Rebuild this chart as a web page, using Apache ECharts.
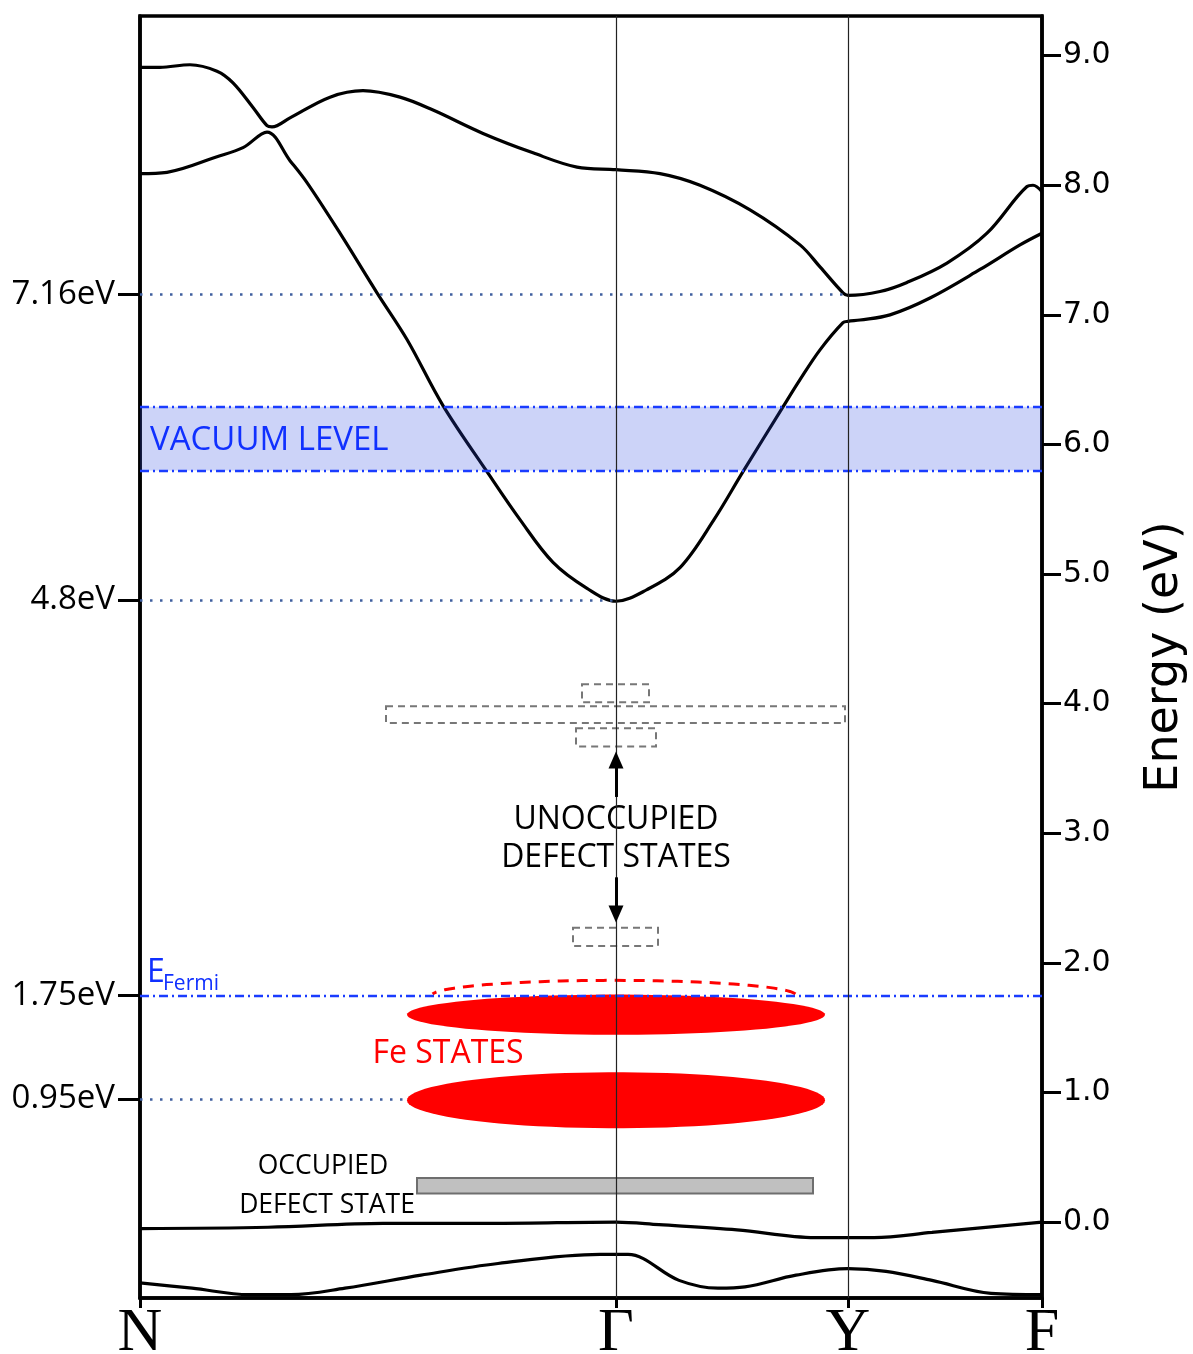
<!DOCTYPE html>
<html>
<head>
<meta charset="utf-8">
<script src="https://cdn.jsdelivr.net/npm/echarts@6/dist/echarts.min.js"></script>
<style>
    html, body {margin: 0; padding: 0; background: #fff;}
    #chart {width: 1193px; height: 1354px;}
</style>
</head>
<body>
<div id="chart"></div>
<script>
// k-path positions of the high symmetry points
var k_ticks = [0, 4.76, 7.08, 9.02];
var k_names = ['N', 'Γ', 'Y', 'F'];

// energy ticks (eV)
var right_ticks = [0, 1, 2, 3, 4, 5, 6, 7, 8, 9];
var left_ticks = [0.95, 1.75, 4.8, 7.16];
var e_min = -0.586;
var e_max = 9.306;

// bands
var k_b1 = [0, 0.20, 0.50, 0.77, 0.93, 1.13, 1.27, 1.32, 1.50, 1.90, 2.23, 2.60, 2.93, 3.43, 3.93, 4.37, 4.76, 5.20, 5.60, 6.10, 6.60, 6.80, 7.03, 7.08, 7.40, 7.67, 8.07, 8.47, 8.87, 8.93, 9.02];
var e_b1 = [8.91, 8.91, 8.93, 8.88, 8.79, 8.60, 8.46, 8.45, 8.52, 8.68, 8.73, 8.68, 8.58, 8.40, 8.25, 8.14, 8.12, 8.09, 8.00, 7.81, 7.54, 7.37, 7.17, 7.15, 7.18, 7.25, 7.40, 7.63, 7.99, 8.00, 7.95];

var k_b2 = [0, 0.27, 0.77, 1.03, 1.27, 1.50, 1.67, 2.00, 2.37, 2.67, 3.03, 3.47, 3.80, 4.13, 4.47, 4.76, 5.07, 5.40, 5.74, 6.03, 6.43, 6.60, 6.80, 7.03, 7.08, 7.20, 7.50, 7.90, 8.40, 8.80, 9.02];
var e_b2 = [8.09, 8.10, 8.22, 8.29, 8.41, 8.19, 8.02, 7.63, 7.17, 6.81, 6.30, 5.79, 5.42, 5.09, 4.89, 4.79, 4.88, 5.05, 5.42, 5.79, 6.29, 6.50, 6.73, 6.94, 6.95, 6.96, 7.00, 7.13, 7.35, 7.54, 7.63];

var k_b3 = [0, 1.28, 2.43, 3.58, 4.76, 5.19, 5.97, 6.75, 7.08, 7.34, 7.92, 9.02];
var e_b3 = [-0.05, -0.04, -0.01, -0.01, 0.00, -0.02, -0.06, -0.12, -0.12, -0.12, -0.08, 0.00];

var k_b4 = [0, 0.52, 1.09, 1.51, 2.05, 2.81, 3.58, 4.60, 4.76, 4.88, 5.39, 5.78, 6.05, 6.56, 7.08, 7.46, 7.92, 8.51, 9.02];
var e_b4 = [-0.47, -0.51, -0.56, -0.56, -0.51, -0.41, -0.32, -0.25, -0.25, -0.25, -0.45, -0.51, -0.50, -0.41, -0.36, -0.38, -0.45, -0.55, -0.56];

// levels
var vacuum_low = 5.80;
var vacuum_high = 6.29;
var e_fermi = 1.75;

// dashed boxes of the unoccupied defect states: [k0, k1, e0, e1]
var unocc_boxes = [
    [4.42, 5.09, 4.01, 4.15],
    [2.46, 7.05, 3.85, 3.98],
    [4.36, 5.16, 3.67, 3.81],
    [4.33, 5.18, 2.13, 2.27]
];
// occupied defect state bar
var occ_box = [2.77, 6.73, 0.22, 0.34];

// Fe states: [k centre, e centre, k half width, e half height]
var fe_states = [
    [4.76, 1.60, 2.09, 0.155],
    [4.76, 0.94, 2.09, 0.216]
];
var fe_arc = [4.74, 1.75, 1.82, 0.115];

// arrows [k, e_from, e_to]
var arrows = [
    [4.76, 3.28, 3.565],
    [4.76, 2.66, 2.377]
];

function zip(ks, es) {
    var out = [];
    for (var i = 0; i < ks.length; i++) {
        out.push([ks[i], es[i]]);
    }
    return out
}

function band_series(ks, es) {
    return {
        type: 'line',
        data: zip(ks, es),
        smooth: 0.35,
        symbol: 'none',
        z: 3,
        lineStyle: {color: '#000', width: 3.2},
        silent: true
    }
}

function ellipse_points(cx, cy, rx, ry, from, to, n) {
    var pts = [];
    for (var i = 0; i <= n; i++) {
        var t = from + (to - from) * i / n;
        pts.push([cx + rx * Math.cos(t), cy - ry * Math.sin(t)]);
    }
    return pts
}

function label_point(k, e, text, style) {
    return {
        type: 'scatter',
        data: [[k, e]],
        symbolSize: 0,
        silent: true,
        z: 8,
        itemStyle: {opacity: 1},
        label: Object.assign({
            show: true,
            position: 'inside',
            formatter: text,
            fontFamily: 'Open Sans',
            color: '#000'
        }, style)
    }
}

var dash_dot = [9, 4, 2, 4];
var dot_line = {color: '#3f5f9f', width: 2.5, type: [2.5, 7.5]};

var mychart = echarts.init(document.getElementById('chart'));

var option = {
    backgroundColor: '#fff',
    animation: false,
    grid: {
        left: 140, right: 151, top: 16, bottom: 56,
        outerBoundsMode: 'none',
        containLabel: false,
        show: true, borderColor: '#000', borderWidth: 3.5
    },
    xAxis: {
        type: 'value',
        min: 0,
        max: 9.02,
        splitLine: {show: false},
        axisLine: {onZero: false, lineStyle: {color: '#000', width: 3.5}},
        axisTick: {
            show: true, inside: false, length: 10, customValues: k_ticks,
            lineStyle: {color: '#000', width: 3}
        },
        axisLabel: {
            customValues: k_ticks,
            margin: 5,
            fontFamily: 'Liberation Serif',
            fontSize: 62,
            color: '#000',
            formatter: function (v) {
                for (var i = 0; i < k_ticks.length; i++) {
                    if (Math.abs(k_ticks[i] - v) < 1e-6) return k_names[i];
                }
                return '';
            }
        }
    },
    yAxis: [{
        type: 'value',
        position: 'left',
        min: e_min,
        max: e_max,
        splitLine: {show: false},
        axisLine: {show: true, onZero: false, lineStyle: {color: '#000', width: 3.5}},
        axisTick: {
            show: true, inside: false, length: 22, customValues: left_ticks,
            lineStyle: {color: '#000', width: 3}
        },
        axisLabel: {
            customValues: left_ticks,
            margin: 25,
            fontFamily: 'Open Sans',
            fontSize: 33,
            color: '#000',
            formatter: function (v) { return v + 'eV'; }
        }
    }, {
        type: 'value',
        position: 'right',
        min: e_min,
        max: e_max,
        splitLine: {show: false},
        name: 'Energy (eV)',
        nameLocation: 'middle',
        nameRotate: 90,
        nameGap: 100,
        nameTextStyle: {fontFamily: 'DejaVu Sans', fontSize: 46, color: '#000'},
        axisLine: {show: true, onZero: false, lineStyle: {color: '#000', width: 3.5}},
        axisTick: {
            show: true, inside: false, length: 19, customValues: right_ticks,
            lineStyle: {color: '#000', width: 3}
        },
        axisLabel: {
            customValues: right_ticks,
            margin: 21,
            fontFamily: 'DejaVu Sans',
            fontSize: 30,
            color: '#000',
            formatter: function (v) { return v.toFixed(1); }
        }
    }],
    series: [
        band_series(k_b1, e_b1),
        band_series(k_b2, e_b2),
        band_series(k_b3, e_b3),
        band_series(k_b4, e_b4),
        {
            // vacuum level band, Fermi level, guide lines
            type: 'line',
            data: [],
            silent: true,
            markArea: {
                silent: true,
                z: 6,
                itemStyle: {color: 'rgba(40, 70, 225, 0.24)'},
                data: [[{yAxis: vacuum_low}, {yAxis: vacuum_high}]]
            },
            markLine: {
                silent: true,
                symbol: 'none',
                z: 7,
                label: {show: false},
                data: [
                    {yAxis: vacuum_low, lineStyle: {color: '#1a3cff', width: 2.4, type: dash_dot}},
                    {yAxis: vacuum_high, lineStyle: {color: '#1a3cff', width: 2.4, type: dash_dot}},
                    {yAxis: e_fermi, lineStyle: {color: '#1a3cff', width: 2.4, type: dash_dot}},
                    [{coord: [0, left_ticks[3]], lineStyle: dot_line}, {coord: [k_ticks[2], left_ticks[3]]}],
                    [{coord: [0, left_ticks[2]], lineStyle: dot_line}, {coord: [k_ticks[1], left_ticks[2]]}],
                    [{coord: [0, left_ticks[0]], lineStyle: dot_line}, {coord: [2.67, left_ticks[0]]}]
                ]
            }
        },
        {
            // Fe states, defect boxes
            type: 'custom',
            z: 4,
            silent: true,
            data: fe_states.map(function (d) { return d.concat([0]); })
                .concat([fe_arc.concat([1])])
                .concat(unocc_boxes.map(function (d) { return d.concat([2]); }))
                .concat([occ_box.concat([3])]),
            encode: {x: 0, y: 1},
            renderItem: function (params, api) {
                var kind = api.value(4);
                if (kind === 0 || kind === 1) {
                    var c = api.coord([api.value(0), api.value(1)]);
                    var s = api.size([api.value(2), api.value(3)]);
                    if (kind === 0) {
                        return {
                            type: 'polygon',
                            shape: {points: ellipse_points(c[0], c[1], s[0], s[1], 0, Math.PI * 2, 90)},
                            style: {fill: '#ff0000', stroke: null}
                        };
                    }
                    return {
                        type: 'polyline',
                        shape: {points: ellipse_points(c[0], c[1], s[0], s[1], 0.08, Math.PI - 0.08, 50)},
                        style: {fill: null, stroke: '#ff0000', lineWidth: 3, lineDash: [11, 8]}
                    };
                }
                var p0 = api.coord([api.value(0), api.value(3)]);
                var p1 = api.coord([api.value(1), api.value(2)]);
                var rect = {x: p0[0], y: p0[1], width: p1[0] - p0[0], height: p1[1] - p0[1]};
                if (kind === 2) {
                    return {
                        type: 'rect', shape: rect,
                        style: {fill: null, stroke: '#777', lineWidth: 2, lineDash: [7, 5]}
                    };
                }
                return {
                    type: 'rect', shape: rect,
                    style: {fill: '#c0c0c0', stroke: '#6e6e6e', lineWidth: 2}
                };
            }
        },
        {
            // symmetry lines and arrows on top
            type: 'line',
            data: [],
            silent: true,
            markLine: {
                silent: true,
                symbol: 'none',
                z: 9,
                label: {show: false},
                data: [
                    {xAxis: k_ticks[1], lineStyle: {color: '#222', width: 1.2, type: 'solid'}},
                    {xAxis: k_ticks[2], lineStyle: {color: '#222', width: 1.2, type: 'solid'}},
                    [{coord: [arrows[0][0], arrows[0][1]], symbol: 'none', lineStyle: {color: '#000', width: 3, type: 'solid'}},
                     {coord: [arrows[0][0], arrows[0][2]], symbol: 'triangle', symbolSize: [15, 17]}],
                    [{coord: [arrows[1][0], arrows[1][1]], symbol: 'none', lineStyle: {color: '#000', width: 3, type: 'solid'}},
                     {coord: [arrows[1][0], arrows[1][2]], symbol: 'triangle', symbolSize: [15, 17]}]
                ]
            }
        },
        label_point(0.10, 6.03, 'VACUUM LEVEL', {position: 'right', distance: 0, fontSize: 33, color: '#1030ff'}),
        label_point(4.76, 2.955, 'UNOCCUPIED\nDEFECT STATES', {fontSize: 32, lineHeight: 38}),
        label_point(3.08, 1.30, 'Fe STATES', {fontSize: 32, color: '#ff0000'}),
        label_point(1.83, 0.43, 'OCCUPIED', {fontSize: 26.5}),
        label_point(1.87, 0.13, 'DEFECT STATE', {fontSize: 26.5}),
        label_point(0.07, 1.92, 'E', {position: 'right', distance: 0, fontSize: 32, color: '#1030ff'}),
        label_point(0.23, 1.84, 'Fermi', {position: 'right', distance: 0, fontSize: 21, color: '#1030ff'})
    ]
};

mychart.setOption(option);
</script>
</body>
</html>
